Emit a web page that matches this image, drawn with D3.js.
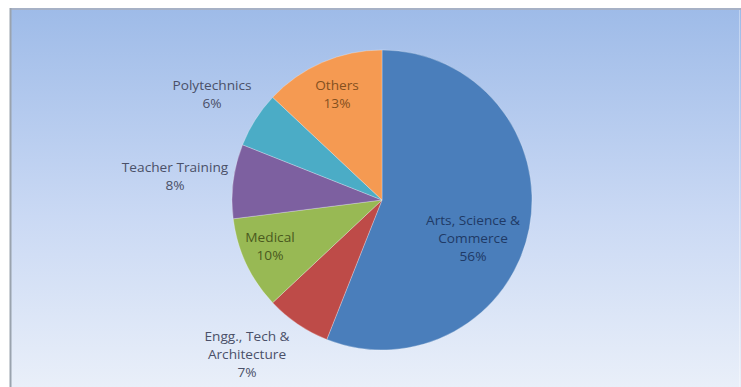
<!DOCTYPE html>
<html>
<head>
<meta charset="utf-8">
<script src="https://cdn.jsdelivr.net/npm/d3@7"></script>
<style>
  html, body { margin: 0; padding: 0; background: #ffffff; }
  svg { display: block; }
  text { font-family: "Open Sans", "Noto Sans", sans-serif; font-size: 12px; }
</style>
</head>
<body>
<svg id="chart" width="741" height="387"></svg>
<script>
// Share of institutions by stream (%), drawn clockwise from 12 o'clock
const categories = ["Arts, Science & Commerce", "Engg., Tech & Architecture", "Medical", "Teacher Training", "Polytechnics", "Others"];
const shares = [56, 7, 10, 8, 6, 13];
const labelLines = [
  ["Arts, Science &", "Commerce"],
  ["Engg., Tech &", "Architecture"],
  ["Medical"],
  ["Teacher Training"],
  ["Polytechnics"],
  ["Others"]
];
const sliceColors = ["#4a7ebb", "#be4b48", "#98b954", "#7d60a0", "#4bacc6", "#f59a52"];
const labelColors = ["#1f3a66", "#4a5068", "#4a5a1e", "#4a5068", "#4a5068", "#84501e"];

const svg = d3.select("#chart");
const W = 741, H = 387;

// Chart area background with vertical gradient
const defs = svg.append("defs");
const grad = defs.append("linearGradient").attr("id", "bg").attr("x1", 0).attr("y1", 0).attr("x2", 0).attr("y2", 1);
grad.append("stop").attr("offset", "0%").attr("stop-color", "#9ebbe8");
grad.append("stop").attr("offset", "55%").attr("stop-color", "#cad9f4");
grad.append("stop").attr("offset", "100%").attr("stop-color", "#e9eff9");

svg.append("rect").attr("x", 10).attr("y", 8).attr("width", W - 10).attr("height", H - 8)
  .attr("fill", "url(#bg)");
svg.append("line").attr("x1", 10).attr("x2", W).attr("y1", 9).attr("y2", 9)
  .attr("stroke", "#a6b1c6").attr("stroke-width", 2);
svg.append("line").attr("x1", 10.5).attr("x2", 10.5).attr("y1", 8).attr("y2", H)
  .attr("stroke", "#9aa3ae").attr("stroke-width", 2);
svg.append("line").attr("x1", 739.5).attr("x2", 739.5).attr("y1", 10).attr("y2", H)
  .attr("stroke", "rgba(255,255,255,0.35)").attr("stroke-width", 1);

// Pie
const cx = 382, cy = 200, R = 150;
const pie = d3.pie().sort(null).value(d => d)(shares);
const arc = d3.arc().innerRadius(0).outerRadius(R);

const g = svg.append("g").attr("transform", `translate(${cx},${cy})`);
g.selectAll("path.slice").data(pie).join("path")
  .attr("class", "slice")
  .attr("d", arc)
  .attr("fill", (d, i) => sliceColors[i])
  .attr("stroke", "rgba(255,255,255,0.35)")
  .attr("stroke-width", 0.8);

// Label anchor positions (relative to the pie centre), in slice order
const labelPos = [
  [91, 39],     // Arts, Science & Commerce (inside)
  [-135, 155],  // Engg., Tech & Architecture (outside, below-left)
  [-112, 47],   // Medical (inside)
  [-207, -23],  // Teacher Training (outside)
  [-170, -105], // Polytechnics (outside)
  [-45, -105]   // Others (inside)
];
const lineH = 18;

pie.forEach((d, i) => {
  const lines = labelLines[i].concat([shares[i] + "%"]);
  const [lx, ly] = labelPos[i];
  const t = g.append("text")
    .attr("text-anchor", "middle")
    .attr("transform", `translate(${lx},${ly}) scale(1.14,1)`)
    .attr("fill", labelColors[i]);
  const top = -(lines.length - 1) * lineH / 2;
  lines.forEach((s, k) => {
    t.append("tspan").attr("x", 0).attr("y", top + k * lineH).attr("dy", "0.35em").text(s);
  });
});
</script>
</body>
</html>
